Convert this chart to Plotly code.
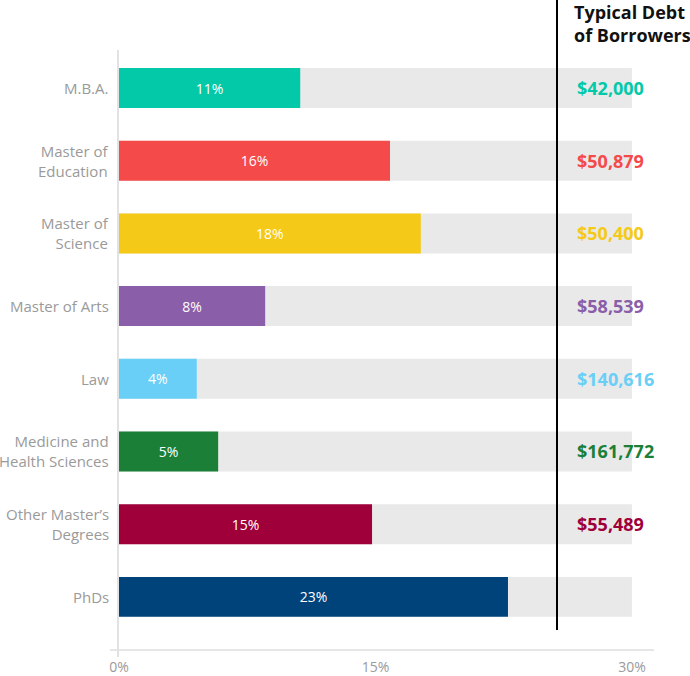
import plotly.graph_objects as go

categories = ["M.B.A.", "Master of<br>Education", "Master of<br>Science", "Master of Arts", "Law",
              "Medicine and<br>Health Sciences", "Other Master’s<br>Degrees", "PhDs"]
shares = [10.6, 15.85, 17.65, 8.55, 4.55, 5.8, 14.8, 22.75]
share_labels = ["11%", "16%", "18%", "8%", "4%", "5%", "15%", "23%"]
debt_labels = ["$42,000", "$50,879", "$50,400", "$58,539", "$140,616", "$161,772", "$55,489", ""]
colors = ["#04C9A9", "#F54A4A", "#F5C918", "#8A5EA8", "#6ACFF6", "#1C7F37", "#A0003A", "#00437A"]
background_max = [30] * len(categories)
x_tick_vals = [0, 15, 30]
x_tick_text = ["0%", "15%", "30%"]
header = "Typical Debt<br>of Borrowers"

FONT = "Open Sans, Noto Sans, sans-serif"
idx = list(range(len(categories)))

W, H = 690, 676
PL, PR, PT, PB = 110, 654, 50, 649
L, T = PL, PT
R, B = W - PR, H - PB

def px_x(p):
    return (p - PL) / (PR - PL)

def px_y(p):
    return 1 + (PT - p) / (PB - PT)

fig = go.Figure()
fig.add_trace(go.Bar(
    y=idx, x=background_max, orientation="h", marker=dict(color="#E9E9E9", line=dict(width=0)),
    width=0.55, hoverinfo="skip", showlegend=False))
fig.add_trace(go.Bar(
    y=idx, x=shares, orientation="h", marker=dict(color=colors, line=dict(width=0)),
    width=0.55, text=share_labels, textposition="inside", insidetextanchor="middle",
    textangle=0, textfont=dict(color="white", size=14, family=FONT), showlegend=False))

annotations = []
for i, c in enumerate(categories):
    annotations.append(dict(xref="paper", yref="y", x=px_x(111), y=i, text=c, showarrow=False,
                            xanchor="right", align="right",
                            font=dict(size=15, color="#9A9A9A", family=FONT)))
    if debt_labels[i]:
        annotations.append(dict(xref="paper", yref="y", x=px_x(575), y=i, text="<b>%s</b>" % debt_labels[i],
                                showarrow=False, xanchor="left",
                                font=dict(size=18, color=colors[i], family=FONT)))
annotations.append(dict(xref="paper", yref="paper", x=px_x(572), y=px_y(-2), text="<b>%s</b>" % header,
                        showarrow=False, xanchor="left", yanchor="top", align="left",
                        font=dict(size=18, color="#111111", family=FONT)))

shapes = [
    dict(type="line", xref="paper", yref="paper", x0=px_x(557), x1=px_x(557), y0=px_y(630), y1=px_y(0),
         line=dict(color="black", width=2)),
    dict(type="line", xref="paper", yref="paper", x0=px_x(118), x1=px_x(118), y0=px_y(657), y1=1,
         line=dict(color="#E2E2E2", width=2)),
]

fig.update_layout(
    width=W, height=H, margin=dict(l=L, r=R, t=T, b=B, pad=0, autoexpand=False),
    paper_bgcolor="white", plot_bgcolor="white", barmode="overlay",
    font=dict(family=FONT),
    xaxis=dict(range=[-0.526, 31.29], tickvals=x_tick_vals, ticktext=x_tick_text, automargin=False,
               showgrid=False, zeroline=False, showline=True, linecolor="#E6E6E6", linewidth=2,
               ticks="outside", ticklen=4, tickcolor="rgba(0,0,0,0)",
               tickfont=dict(size=14, color="#9A9A9A", family=FONT), fixedrange=True),
    yaxis=dict(range=[7.717, -0.523], showticklabels=False, showgrid=False, zeroline=False,
               showline=False, fixedrange=True, automargin=False),
    annotations=annotations, shapes=shapes,
)

fig.write_html("out.html", config={"displayModeBar": False},
               post_script="document.body.style.margin='0';document.body.style.overflow='hidden';")
